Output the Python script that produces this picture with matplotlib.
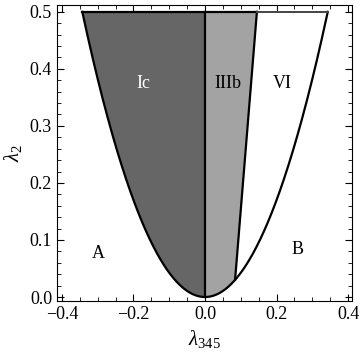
import numpy as np
import matplotlib
matplotlib.use("Agg")
import matplotlib.pyplot as plt
from matplotlib.ticker import MultipleLocator

plt.rcParams['font.family'] = ['Liberation Serif', 'DejaVu Serif']
plt.rcParams['mathtext.fontset'] = 'custom'
plt.rcParams['mathtext.rm'] = 'Liberation Serif'
plt.rcParams['mathtext.it'] = 'Liberation Serif:italic'

# Data
parab_coeff = 4.25          # lambda2 = c * lambda345^2 boundary
y_top = 0.5
line_x = [0.084, 0.145]     # IIIb / VI boundary
line_y = [0.030, 0.5]
region_labels = ['Ic', 'IIIb', 'VI', 'A', 'B']
label_x = [-0.173, 0.064, 0.215, -0.299, 0.259]
label_y = [0.375, 0.375, 0.375, 0.077, 0.084]
label_colors = ['white', 'black', 'black', 'black', 'black']

fig = plt.figure(figsize=(3.6, 3.56), dpi=100)
ax = fig.add_axes([0.158, 0.1545, 0.82, 0.8315])

xe = np.sqrt(y_top / parab_coeff)

# Ic region
xl = np.linspace(-xe, 0, 300)
ax.fill_between(xl, parab_coeff * xl**2, y_top, color='#666666', lw=0)
# IIIb region: from 0 to line
slope = (line_x[1] - line_x[0]) / (line_y[1] - line_y[0])
xr = np.linspace(0, line_x[1], 400)
ylow = np.where(xr <= line_x[0], parab_coeff * xr**2,
                line_y[0] + (xr - line_x[0]) / slope)
ax.fill_between(xr, ylow, y_top, color='#a3a3a3', lw=0)

# boundaries
xp = np.linspace(-xe, xe, 600)
ax.plot(xp, parab_coeff * xp**2, color='black', lw=1.6)
ax.plot([0, 0], [0, y_top], color='black', lw=1.6)
ax.plot(line_x, line_y, color='black', lw=1.6)
ax.plot([-xe, line_x[1]], [y_top, y_top], color='black', lw=1.6)
ax.plot([line_x[1], xe], [y_top, y_top], color='#444444', lw=1.4)

for t, x, y, c in zip(region_labels, label_x, label_y, label_colors):
    ax.text(x, y, t, color=c, fontsize=13, ha='center', va='center')

ax.set_xlim(-0.414, 0.411)
ax.set_ylim(-0.007, 0.512)
ax.xaxis.set_major_locator(MultipleLocator(0.2))
ax.xaxis.set_minor_locator(MultipleLocator(0.05))
ax.yaxis.set_major_locator(MultipleLocator(0.1))
ax.yaxis.set_minor_locator(MultipleLocator(0.02))
ax.xaxis.set_major_formatter(matplotlib.ticker.FuncFormatter(lambda v, p: f"{v:.1f}".replace('-', '\u2212')))
ax.yaxis.set_major_formatter(matplotlib.ticker.FuncFormatter(lambda v, p: f"{v:.1f}"))
ax.tick_params(which='both', direction='in', top=True, right=True, labelsize=13)
ax.tick_params(which='major', length=5)
ax.tick_params(which='minor', length=3)
ax.set_xlabel(r'$\lambda_{345}$', fontsize=15)
ax.set_ylabel(r'$\lambda_2$', fontsize=15)

fig.savefig('out.png', dpi=100)
